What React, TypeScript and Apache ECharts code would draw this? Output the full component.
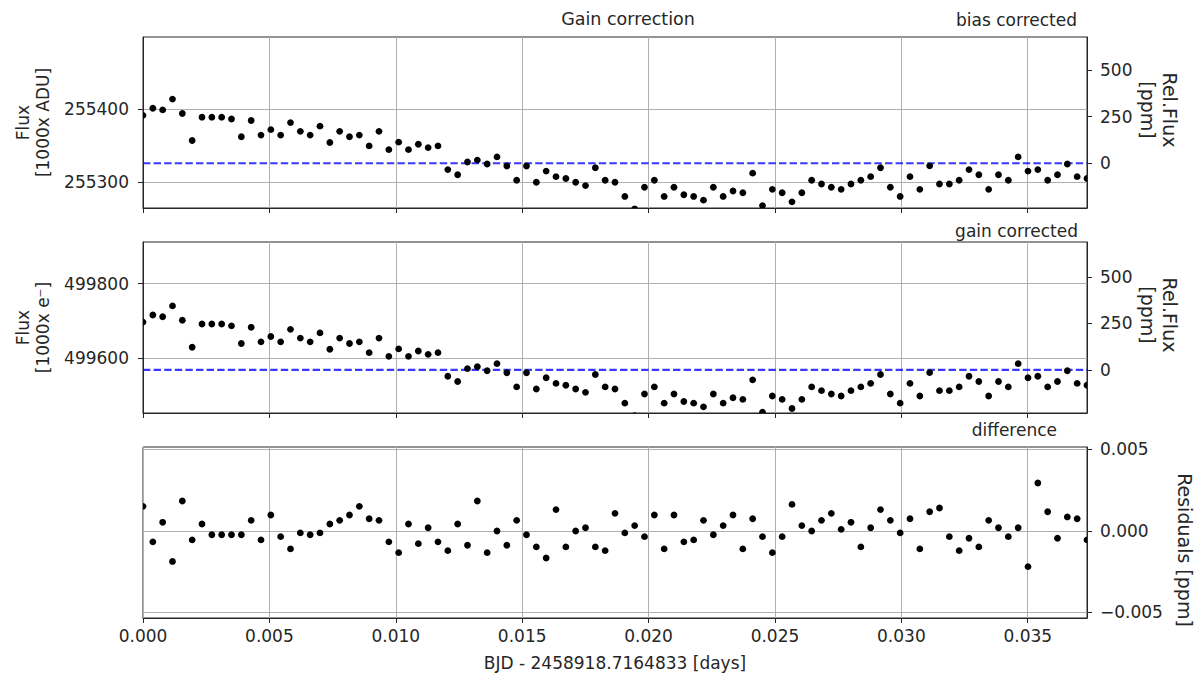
import React, { useEffect, useRef } from "react";
import * as echarts from "echarts";

// Observation times relative to BJD 2458918.7164833 [days]
const times = [
  0, 0.000389, 0.000778, 0.001167, 0.001556, 0.001945, 0.002334, 0.002723, 0.003112, 0.003501,
  0.00389, 0.004279, 0.004668, 0.005057, 0.005446, 0.005835, 0.006224, 0.006613, 0.007002, 0.007391,
  0.00778, 0.008169, 0.008558, 0.008947, 0.009336, 0.009725, 0.010114, 0.010503, 0.010892, 0.011281,
  0.01167, 0.012059, 0.012448, 0.012837, 0.013226, 0.013615, 0.014004, 0.014393, 0.014782, 0.015171,
  0.01556, 0.015949, 0.016338, 0.016727, 0.017116, 0.017505, 0.017894, 0.018283, 0.018672, 0.019061,
  0.01945, 0.019839, 0.020228, 0.020617, 0.021006, 0.021395, 0.021784, 0.022173, 0.022562, 0.022951,
  0.02334, 0.023729, 0.024118, 0.024507, 0.024896, 0.025285, 0.025674, 0.026063, 0.026452, 0.026841,
  0.02723, 0.027619, 0.028008, 0.028397, 0.028786, 0.029175, 0.029564, 0.029953, 0.030342, 0.030731,
  0.03112, 0.031509, 0.031898, 0.032287, 0.032676, 0.033065, 0.033454, 0.033843, 0.034232, 0.034621,
  0.03501, 0.035399, 0.035788, 0.036177, 0.036566, 0.036955, 0.037344,
];

// Relative flux [ppm] (same relative light curve before and after gain correction)
const relFluxPpm = [
  257, 295, 286, 344, 267, 122, 247, 247, 247, 237,
  142, 229, 151, 180, 151, 218, 171, 151, 199, 111,
  171, 142, 151, 93, 171, 73, 113, 73, 102, 84,
  93, -34, -62, 7, 17, -4, 34, -15, -91, -15,
  -102, -42, -72, -82, -102, -120, -24, -91, -102, -178,
  -245, -129, -91, -178, -129, -169, -178, -198, -129, -178,
  -149, -158, -53, -227, -140, -158, -207, -158, -91, -111,
  -129, -140, -111, -91, -72, -24, -129, -178, -72, -140,
  -14, -111, -111, -91, -34, -62, -140, -62, -91, 34,
  -42, -34, -91, -62, -4, -72, -82,
];

// Difference between the two corrected light curves [ppm]
const residualsPpm = [
  0.00151, -0.00067, 0.00053, -0.00187, 0.00184, -0.00055, 0.00043, -0.00023, -0.00023, -0.00023,
  -0.00023, 0.00065, -0.00055, 0.00098, -0.00035, -0.0011, -0.00012, -0.00023, -0.00012, 0.00043,
  0.00065, 0.00098, 0.00151, 0.00075, 0.00065, -0.00067, -0.00133, 0.00043, -0.00078, 0.0002,
  -0.00067, -0.00121, 0.00043, -0.00088, 0.00184, -0.00133, 0, -0.00088, 0.00065, -0.00023,
  -0.00098, -0.00166, 0.00131, -0.00098, 0, 0.0002, -0.00098, -0.00121, 0.00108, -0.00012,
  0.00033, -0.00035, 0.00098, -0.0011, 0.00098, -0.00067, -0.00055, 0.00065, -0.00023, 0.00033,
  0.00098, -0.0011, 0.00075, -0.00035, -0.00133, -0.00035, 0.00163, 0.00033, 0, 0.00065,
  0.00108, 0.0001, 0.00053, -0.00098, 0.0002, 0.00131, 0.00065, -0.00012, 0.00075, -0.0011,
  0.00118, 0.00141, -0.00035, -0.00121, -0.00045, -0.00098, 0.00065, 0.0002, -0.00035, 0.0002,
  -0.00219, 0.00294, 0.00118, -0.00045, 0.00086, 0.00075, -0.00055,
];

// Reference flux levels that correspond to 0 ppm
const BIAS_REF_FLUX = 255326; // [1000x ADU]
const GAIN_REF_FLUX = 499568.5; // [1000x e-]
const ZERO_LEVEL_PPM = 0;

// Axis ranges and tick values
const biasPpmRange = [-240, 677];
const gainPpmRange = [-231, 687];
const residualRange = [-0.00534, 0.00515];
const timeTicks = [0, 0.005, 0.01, 0.015, 0.02, 0.025, 0.03, 0.035];
const biasFluxTicks = [255300, 255400];
const gainFluxTicks = [499600, 499800];
const relFluxTicks = [0, 250, 500];
const residualTicks = [-0.005, 0, 0.005];

const FONT = "DejaVu Sans";
const TEXT = "#262626";
const SPINE = "#262626";
const GRID_LINE = "#b0b0b0";
const DOT = "#000000";
const DASH_BLUE = "rgba(0,0,255,0.78)";
const FS = 17;
const RIGHT_LABEL_FS = 19;

const GRID_LEFT = 143;
const GRID_RIGHT = 116;
const PANEL_TOPS = [37, 242, 447];
const PANEL_H = 171;

const tickStyle = { show: true, inside: false, length: 5, lineStyle: { color: SPINE, width: 1 } };
const axisLineStyle = { show: true, onZero: false, lineStyle: { color: SPINE, width: 1 } };
const labelFont = { fontFamily: FONT, fontSize: FS, color: TEXT };
const nameFont = { fontFamily: FONT, fontSize: FS, color: TEXT, lineHeight: 20 };

const fmtMinus = (s: string) => s.replace("-", "\u2212");

function buildOption() {
  const grids = PANEL_TOPS.map((top) => ({
    left: GRID_LEFT,
    right: GRID_RIGHT,
    top,
    height: PANEL_H,
    show: true,
    borderColor: SPINE,
    borderWidth: 1,
    backgroundColor: "transparent",
  }));

  const xAxes = [0, 1, 2].map((g) => ({
    type: "value",
    gridIndex: g,
    min: times[0],
    max: times[times.length - 1],
    axisLine: axisLineStyle,
    axisTick: { ...tickStyle, customValues: timeTicks },
    axisLabel: {
      show: g === 2,
      customValues: timeTicks,
      formatter: (v: number) => v.toFixed(3),
      margin: 9,
      ...labelFont,
    },
    splitLine: { show: true, lineStyle: { color: GRID_LINE, width: 1 } },
    name: g === 2 ? "BJD - 2458918.7164833 [days]" : "",
    nameLocation: "middle",
    nameGap: 35,
    nameTextStyle: nameFont,
  }));

  const fluxAxis = (g: number, ref: number, range: number[], ticks: number[], name: string) => ({
    type: "value",
    gridIndex: g,
    position: "left",
    min: ref * (1 + range[0] * 1e-6),
    max: ref * (1 + range[1] * 1e-6),
    axisLine: axisLineStyle,
    axisTick: { ...tickStyle, customValues: ticks },
    axisLabel: { customValues: ticks, formatter: (v: number) => String(Math.round(v)), margin: 14, ...labelFont },
    splitLine: { show: true, lineStyle: { color: GRID_LINE, width: 1 } },
    name,
    nameLocation: "middle",
    nameRotate: 90,
    nameGap: 86,
    nameTextStyle: nameFont,
  });

  const rightAxis = (
    g: number,
    range: number[],
    ticks: number[],
    fmt: (v: number) => string,
    grid: boolean
  ) => ({
    type: "value",
    gridIndex: g,
    position: "right",
    min: range[0],
    max: range[1],
    axisLine: axisLineStyle,
    axisTick: { ...tickStyle, customValues: ticks },
    axisLabel: { customValues: ticks, formatter: fmt, margin: 13, ...labelFont },
    splitLine: { show: grid, lineStyle: { color: GRID_LINE, width: 1 } },
  });

  const ppmFmt = (v: number) => fmtMinus(String(Math.round(v)));
  const resFmt = (v: number) => fmtMinus(v.toFixed(3));

  const yAxes = [
    fluxAxis(0, BIAS_REF_FLUX, biasPpmRange, biasFluxTicks, "Flux\n[1000x ADU]"),
    rightAxis(0, biasPpmRange, relFluxTicks, ppmFmt, false),
    fluxAxis(1, GAIN_REF_FLUX, gainPpmRange, gainFluxTicks, "Flux\n[1000x e\u207B]"),
    rightAxis(1, gainPpmRange, relFluxTicks, ppmFmt, false),
    rightAxis(2, residualRange, residualTicks, resFmt, true),
  ];

  const dots = (values: number[]) => times.map((t, i) => [t, values[i]]);

  const dotSeries = (xi: number, yi: number, values: number[]) => ({
    type: "custom",
    xAxisIndex: xi,
    yAxisIndex: yi,
    clip: true,
    z: 3,
    silent: true,
    data: dots(values),
    renderItem: (_params: any, api: any) => {
      const p = api.coord([api.value(0), api.value(1)]);
      return { type: "circle", shape: { cx: p[0], cy: p[1], r: 3.4 }, style: { fill: DOT } };
    },
  });

  const zeroLine = (xi: number, yi: number) => ({
    type: "line",
    xAxisIndex: xi,
    yAxisIndex: yi,
    data: [
      [times[0], ZERO_LEVEL_PPM],
      [times[times.length - 1], ZERO_LEVEL_PPM],
    ],
    symbol: "none",
    silent: true,
    z: 2,
    lineStyle: { color: DASH_BLUE, width: 2.2, type: [7.4, 3.2] },
  });

  const text = (x: number, y: number, s: string, align: string, size = FS, rotation = 0) => ({
    type: "text",
    x,
    y,
    rotation,
    silent: true,
    style: {
      text: s,
      fill: TEXT,
      fontFamily: FONT,
      fontSize: size,
      lineHeight: 22,
      align,
      verticalAlign: "middle",
    },
  });

  const CW = -Math.PI / 2;

  return {
    animation: false,
    backgroundColor: "#ffffff",
    grid: grids,
    xAxis: xAxes,
    yAxis: yAxes,
    series: [
      zeroLine(0, 1),
      dotSeries(0, 1, relFluxPpm),
      zeroLine(1, 3),
      dotSeries(1, 3, relFluxPpm),
      dotSeries(2, 4, residualsPpm),
    ],
    graphic: [
      text(628, 19, "Gain correction", "center", 17.5),
      text(1077, 20, "bias corrected", "right"),
      text(1078, 231, "gain corrected", "right"),
      text(1057, 430, "difference", "right"),
      text(1159, 110, "Rel.Flux\n[ppm]", "center", RIGHT_LABEL_FS, CW),
      text(1159, 315, "Rel.Flux\n[ppm]", "center", RIGHT_LABEL_FS, CW),
      text(1185, 550, "Residuals [ppm]", "center", RIGHT_LABEL_FS, CW),
    ],
  };
}

export default function App() {
  const ref = useRef<HTMLDivElement>(null);
  useEffect(() => {
    if (!ref.current) return;
    const chart = echarts.init(ref.current, null, { renderer: "svg" });
    chart.setOption(buildOption() as any);
    return () => chart.dispose();
  }, []);
  return (
    <div
      ref={ref}
      style={{ position: "fixed", left: 0, top: 0, width: 1203, height: 679, background: "#fff" }}
    />
  );
}
